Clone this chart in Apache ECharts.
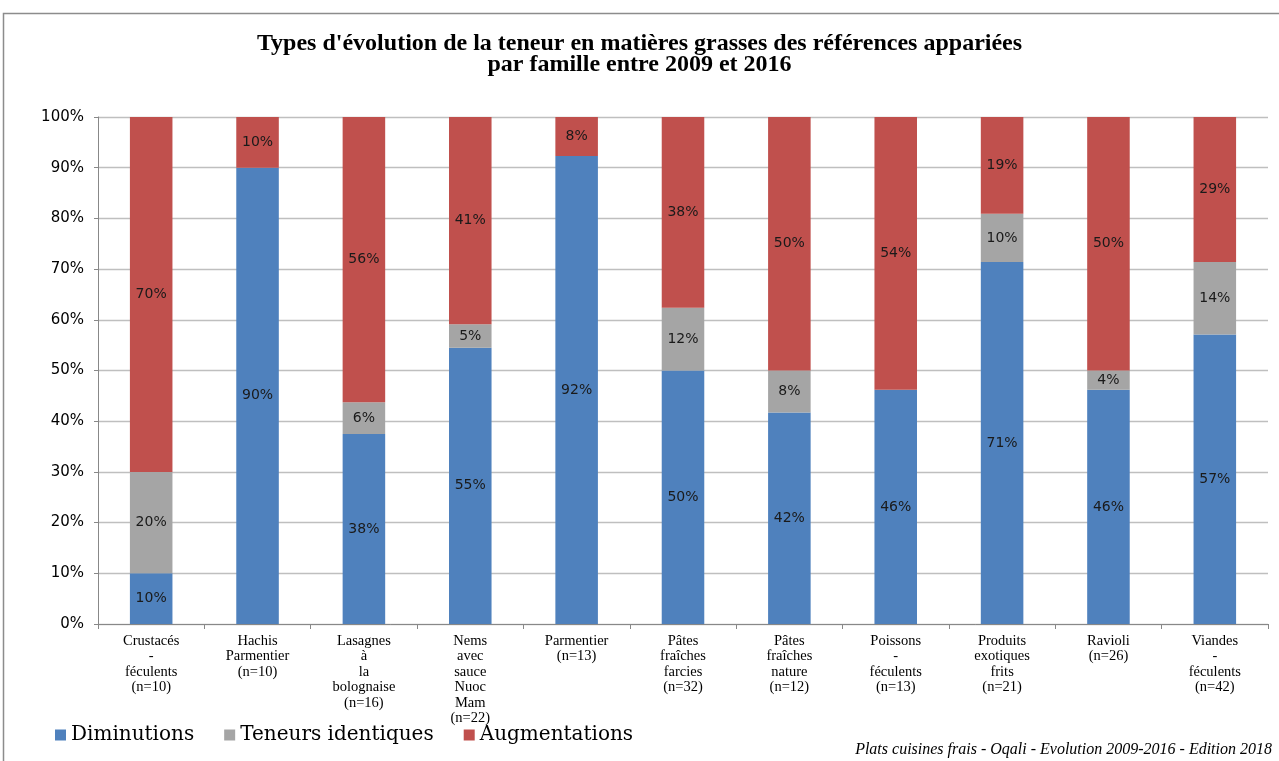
<!DOCTYPE html>
<html>
<head>
<meta charset="utf-8">
<script src="https://cdn.jsdelivr.net/npm/echarts@6/dist/echarts.min.js"></script>
<style>
html,body{margin:0;padding:0;background:#fff;}
#chart{width:1279px;height:761px;}
</style>
</head>
<body>
<div id="chart"></div>
<script>
const categories = [
  "Crustacés\n-\nféculents\n(n=10)",
  "Hachis\nParmentier\n(n=10)",
  "Lasagnes\nà\nla\nbolognaise\n(n=16)",
  "Nems\navec\nsauce\nNuoc\nMam\n(n=22)",
  "Parmentier\n(n=13)",
  "Pâtes\nfraîches\nfarcies\n(n=32)",
  "Pâtes\nfraîches\nnature\n(n=12)",
  "Poissons\n-\nféculents\n(n=13)",
  "Produits\nexotiques\nfrits\n(n=21)",
  "Ravioli\n(n=26)",
  "Viandes\n-\nféculents\n(n=42)"
];
const diminutions = [10, 90, 37.5, 54.5, 92.3, 50, 41.7, 46.2, 71.4, 46.2, 57.1];
const identiques  = [20, 0, 6.25, 4.6, 0, 12.4, 8.3, 0, 9.5, 3.8, 14.3];
const augmentations = [70, 10, 56.25, 40.9, 7.7, 37.6, 50, 53.8, 19.1, 50, 28.6];
const seriesNames = ["Diminutions", "Teneurs identiques", "Augmentations"];
const yTicks = [0, 10, 20, 30, 40, 50, 60, 70, 80, 90, 100];

const colors = ["#4F81BD", "#A5A5A5", "#C0504D"];
const chart = echarts.init(document.getElementById('chart'));
const labelCfg = {
  show: true,
  position: 'inside',
  color: '#1a1a1a',
  fontFamily: 'DejaVu Sans',
  fontSize: 14,
  formatter: p => p.value > 0 ? Math.round(p.value) + '%' : ''
};
const datasets = [diminutions, identiques, augmentations];
chart.setOption({
  animation: false,
  color: colors,
  title: {
    text: "Types d'évolution de la teneur en matières grasses des références appariées\npar famille entre 2009 et 2016",
    left: 'center',
    top: 28,
    textStyle: {fontFamily: 'Liberation Serif', fontWeight: 'bold', fontSize: 24, lineHeight: 21, color: '#000'}
  },
  graphic: [
    {type: 'rect', shape: {x: 3.5, y: 13.5, width: 1300, height: 800}, style: {fill: 'none', stroke: '#8c8c8c', lineWidth: 1.5}, silent: true},
    {type: 'text', right: 7, top: 742, style: {text: 'Plats cuisines frais - Oqali - Evolution 2009-2016 - Edition 2018', font: 'italic 16px "Liberation Serif"', fill: '#000'}}
  ],
  legend: {
    left: 50,
    top: 720,
    itemWidth: 11,
    itemHeight: 11,
    itemGap: 30,
    icon: 'rect',
    textStyle: {fontFamily: 'DejaVu Serif', fontSize: 20, color: '#000'},
    data: seriesNames
  },
  grid: {left: 98, right: 11, top: 117, bottom: 137, containLabel: false},
  xAxis: {
    type: 'category',
    data: categories,
    axisLine: {lineStyle: {color: '#888'}},
    axisTick: {show: true, length: 5, lineStyle: {color: '#888'}},
    axisLabel: {interval: 0, fontFamily: 'Liberation Serif', fontSize: 14.5, lineHeight: 15.5, color: '#000', margin: 9}
  },
  yAxis: {
    type: 'value',
    min: 0, max: 100, interval: 10,
    axisLine: {show: true, lineStyle: {color: '#888'}},
    axisTick: {show: true, length: 4, lineStyle: {color: '#888'}},
    splitLine: {lineStyle: {color: '#bfbfbf', width: 1.3}},
    axisLabel: {formatter: v => yTicks.includes(v) ? v + '%' : '', fontFamily: 'DejaVu Sans', fontSize: 15, color: '#000', margin: 14}
  },
  series: seriesNames.map((n, i) => ({
    name: n,
    type: 'bar',
    stack: 'total',
    barWidth: '40%',
    data: datasets[i],
    label: labelCfg,
    itemStyle: {color: colors[i]}
  }))
});
</script>
</body>
</html>
